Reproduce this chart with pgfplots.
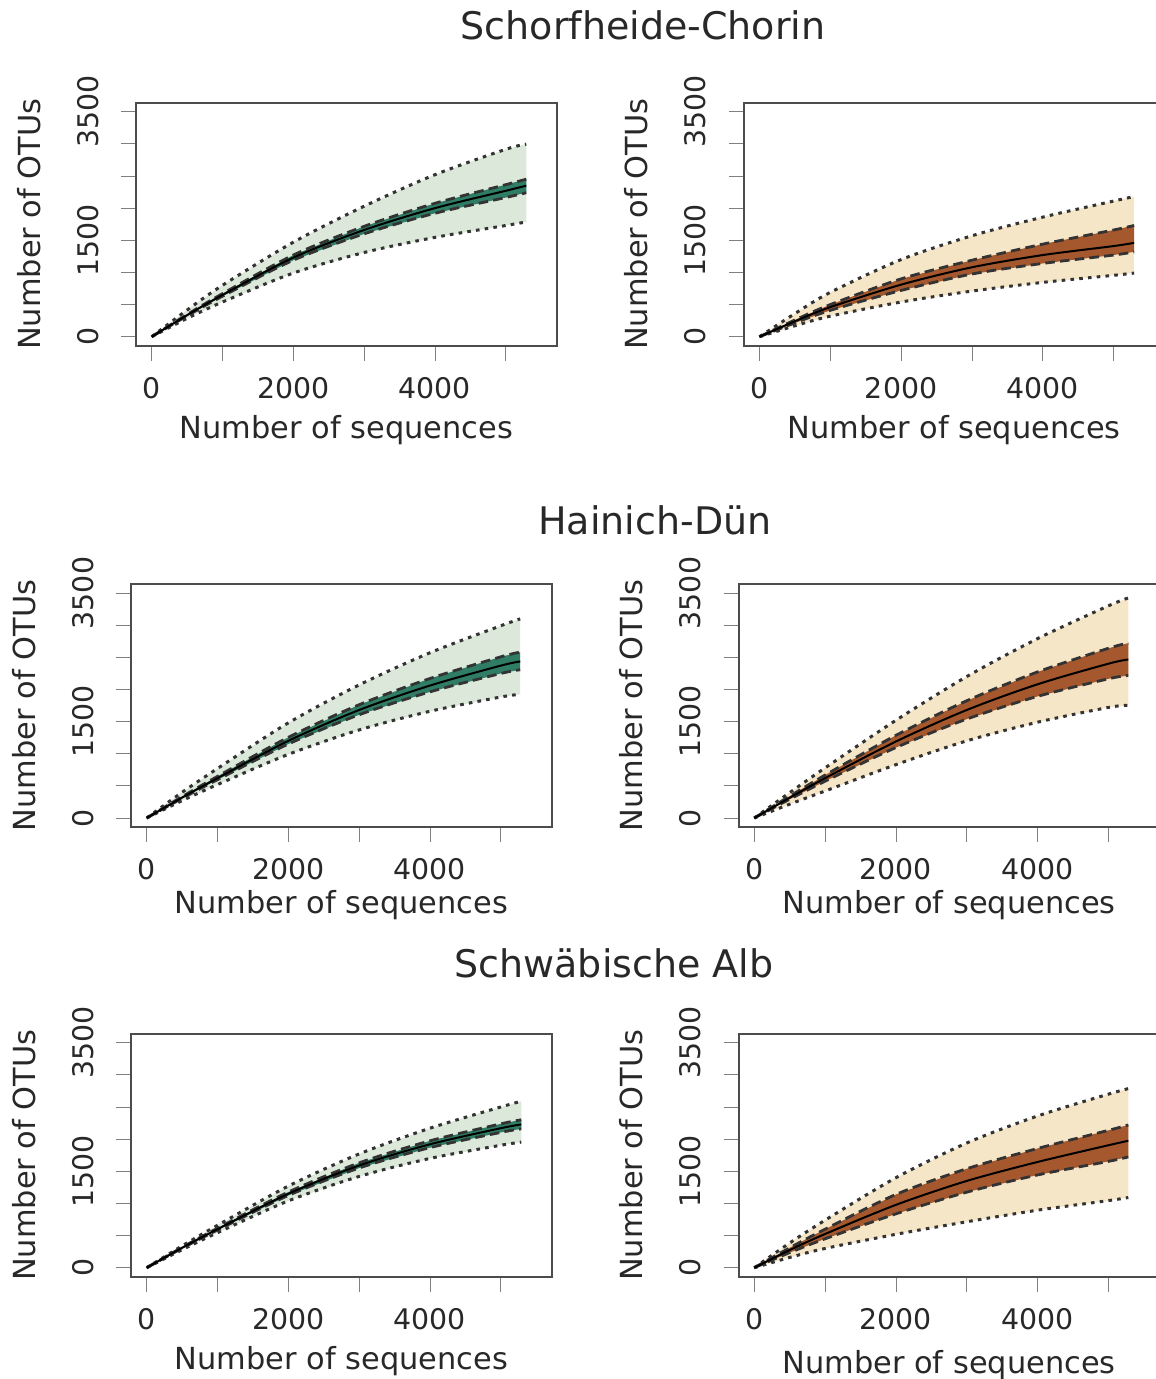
\documentclass[border=0pt]{standalone}
\usepackage{fontspec}
\setmainfont{DejaVu Sans}
\usepackage{pgfplots}
\usepackage{pgfplotstable}
\pgfplotsset{compat=1.18}

\definecolor{lgreen}{RGB}{220,232,218}
\definecolor{dgreen}{RGB}{46,125,100}
\definecolor{ltan}{RGB}{246,230,200}
\definecolor{dbrown}{RGB}{165,88,45}
\definecolor{txt}{RGB}{40,40,40}

\pgfplotstableread{
x lo2 lo1 m hi1 hi2
0 0 0 0 0 0
500 285 325 335 345 415
1000 540 630 650 670 800
2000 990 1190 1230 1270 1470
3000 1310 1600 1660 1717 2030
4000 1545 1920 2000 2075 2520
5000 1730 2165 2270 2365 2915
5290 1785 2240 2350 2450 2995
}\tabA
\pgfplotstableread{
x lo2 lo1 m hi1 hi2
0 0 0 0 0 0
500 170 215 240 260 360
1000 320 410 460 500 690
2000 540 720 810 900 1200
3000 710 975 1080 1190 1570
4000 845 1140 1270 1440 1860
5000 955 1270 1410 1660 2110
5290 990 1320 1460 1730 2180
}\tabB
\pgfplotstableread{
x lo2 lo1 m hi1 hi2
0 0 0 0 0 0
500 270 306 318 332 400
1000 520 596 620 648 770
2000 990 1151 1200 1255 1480
3000 1370 1606 1680 1762 2070
4000 1660 1962 2060 2170 2570
5000 1882 2248 2370 2507 2990
5275 1923 2306 2435 2580 3097
}\tabC
\pgfplotstableread{
x lo2 lo1 m hi1 hi2
0 0 0 0 0 0
500 215 292 315 339 395
1000 420 573 620 668 780
2000 830 1096 1190 1286 1520
3000 1200 1539 1680 1824 2200
4000 1490 1892 2080 2272 2790
5000 1720 2165 2400 2640 3300
5282 1753 2218 2466 2720 3423
}\tabD
\pgfplotstableread{
x lo2 lo1 m hi1 hi2
0 0 0 0 0 0
500 280 303 310 317 340
1000 545 587 600 614 660
2000 1040 1124 1150 1177 1270
3000 1420 1551 1590 1631 1770
4000 1700 1868 1920 1974 2170
5000 1905 2105 2170 2238 2500
5290 1954 2161 2229 2301 2590
}\tabE
\pgfplotstableread{
x lo2 lo1 m hi1 hi2
0 0 0 0 0 0
500 160 235 275 310 385
1000 300 450 525 600 740
2000 520 838 978 1140 1400
3000 715 1175 1350 1540 1940
4000 895 1443 1645 1855 2360
5000 1044 1654 1905 2137 2700
5282 1092 1724 1975 2221 2786
}\tabF

\tikzset{
  dotl/.style={black!80, line width=0.75pt, line cap=butt, dash pattern=on 0.9pt off 1.3pt},
  dashl/.style={black!80, line width=0.7pt, dash pattern=on 2.4pt off 1.3pt},
}
\pgfplotsset{
 geom/.style={
  scale only axis, width=105.15pt, height=60.75pt,
  anchor=south west,
  xmin=-220, xmax=5720, ymin=-140, ymax=3640},
 rpanel/.style={geom,
  axis line style={draw=black!70, line width=0.5pt},
  tick pos=left, tick align=outside, major tick length=3.75pt,
  xtick={0,1000,2000,3000,4000,5000}, xticklabels={0,,2000,,4000,},
  ytick={0,500,1000,1500,2000,2500,3000,3500}, yticklabels={0,,,1500,,,,3500},
  tick label style={font=\fontsize{7.1}{8}\selectfont, text=txt},
  xticklabel style={anchor=center, yshift=-6.75pt},
  yticklabel style={xshift=-8.35pt, rotate=90, anchor=center},
  xlabel={Number of sequences}, ylabel={Number of OTUs},
  label style={font=\fontsize{7.6}{9}\selectfont, text=txt},
  ylabel style={at={(axis description cs:-0.2553,0.5)}, anchor=center},
 }}

\newcommand\panel[6]{%
\begin{axis}[geom, hide axis, stack plots=y, at={(#4,#5)}]
\addplot[draw=none] table[x=x,y=lo2]{#1};
\addplot[fill=#2, draw=none] table[x=x,y expr=\thisrow{hi2}-\thisrow{lo2}]{#1} \closedcycle;
\end{axis}
\begin{axis}[geom, hide axis, stack plots=y, at={(#4,#5)}]
\addplot[draw=none] table[x=x,y=lo1]{#1};
\addplot[fill=#3, draw=none] table[x=x,y expr=\thisrow{hi1}-\thisrow{lo1}]{#1} \closedcycle;
\end{axis}
\begin{axis}[rpanel, at={(#4,#5)}, xlabel style={at={(axis description cs:0.5,#6)}, anchor=center}]
\addplot[dotl, smooth] table[x=x,y=hi2]{#1};
\addplot[dotl, smooth] table[x=x,y=lo2]{#1};
\addplot[dashl, smooth] table[x=x,y=hi1]{#1};
\addplot[dashl, smooth] table[x=x,y=lo1]{#1};
\addplot[black, line width=0.5pt, smooth] table[x=x,y=m]{#1};
\end{axis}}

\begin{document}
\begin{tikzpicture}
\node[anchor=base, text=txt, font=\fontsize{9.5}{11}\selectfont] at (160.75pt,-10pt) {Schorfheide-Chorin};
\node[anchor=base, text=txt, font=\fontsize{9.5}{11}\selectfont] at (163.75pt,-133.5pt) {Hainich-Dün};
\node[anchor=base, text=txt, font=\fontsize{9.5}{11}\selectfont] at (153.5pt,-244.25pt) {Schwäbische Alb};
\panel{\tabA}{lgreen}{dgreen}{34.03pt}{-86.43pt}{-0.3457}
\panel{\tabB}{ltan}{dbrown}{185.98pt}{-86.43pt}{-0.3457}
\panel{\tabC}{lgreen}{dgreen}{32.78pt}{-206.75pt}{-0.321}
\panel{\tabD}{ltan}{dbrown}{184.68pt}{-206.75pt}{-0.321}
\panel{\tabE}{lgreen}{dgreen}{32.78pt}{-319.18pt}{-0.3457}
\panel{\tabF}{ltan}{dbrown}{184.68pt}{-319.18pt}{-0.362}
\pgfresetboundingbox
\path[use as bounding box] (0,0) rectangle (288.75pt,-344.75pt);
\end{tikzpicture}
\end{document}
